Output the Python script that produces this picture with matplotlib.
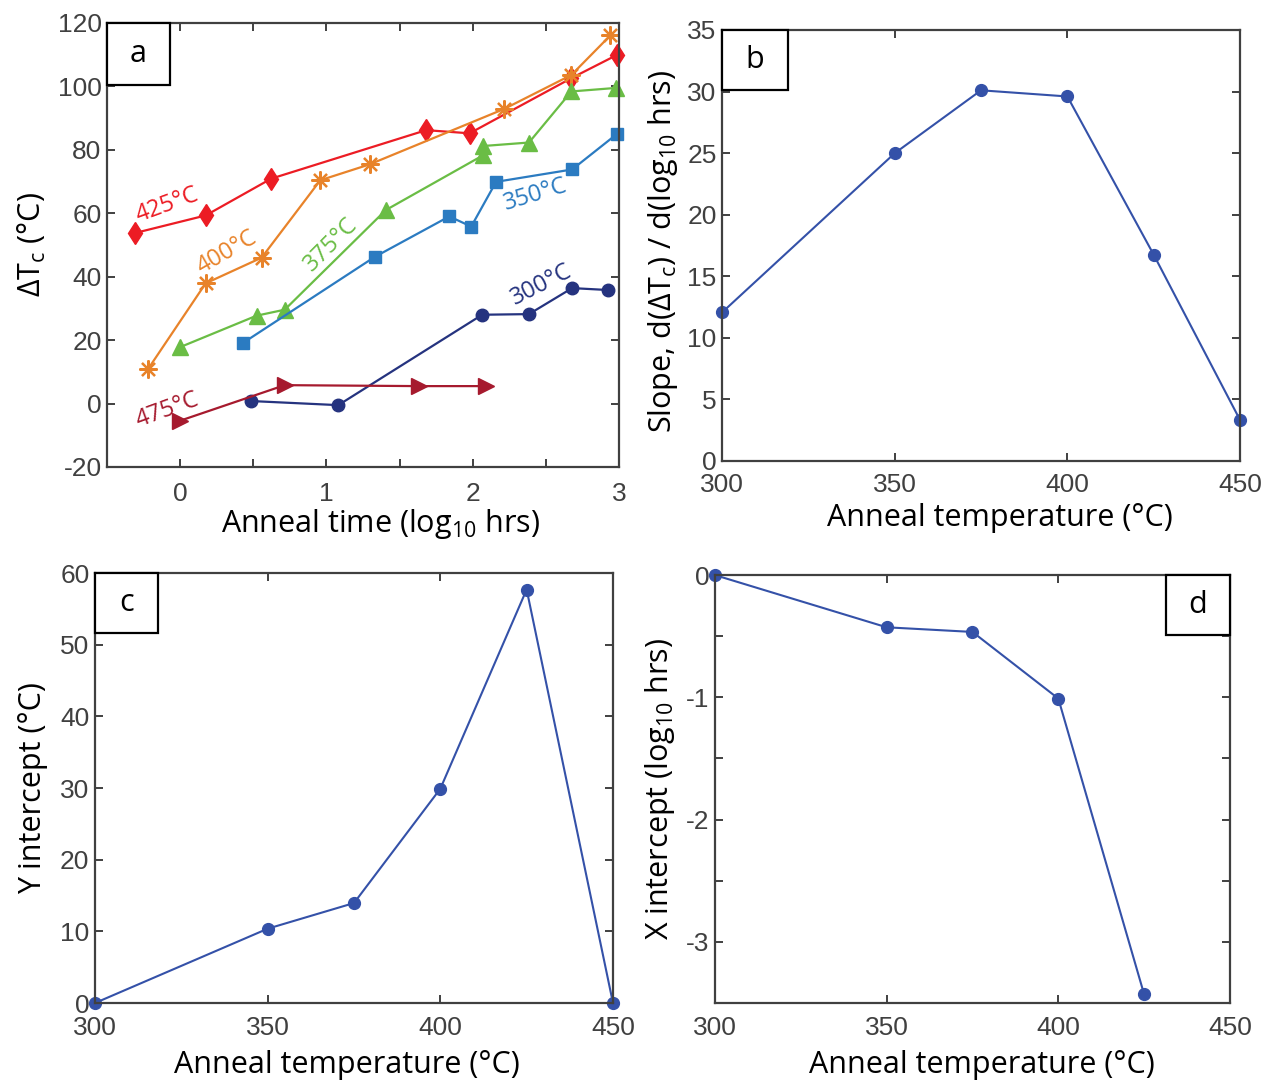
import numpy as np
import matplotlib
matplotlib.use("Agg")
import matplotlib.pyplot as plt
from matplotlib.patches import Rectangle

plt.rcParams["mathtext.default"] = "regular"
plt.rcParams["axes.unicode_minus"] = False

# panel a: delta Tc vs log10 anneal time, one series per anneal temperature
t425 = [-0.306, 0.174, 0.622, 1.682, 1.979, 2.675, 2.986]
d425 = [53.8, 59.3, 70.9, 86.2, 85.2, 102.6, 109.9]
t400 = [-0.218, 0.174, 0.557, 0.958, 1.295, 2.216, 2.675, 2.942]
d400 = [11.0, 37.9, 46.0, 70.4, 75.4, 92.9, 103.6, 116.1]
t375 = [0.0, 0.522, 0.715, 1.406, 2.072, 2.072, 2.385, 2.675, 2.977]
d375 = [17.8, 27.7, 29.6, 61.0, 78.3, 81.2, 82.3, 98.4, 99.5]
t350 = [0.429, 1.329, 1.84, 1.99, 2.16, 2.68, 2.984]
d350 = [19.1, 46.2, 59.0, 55.8, 69.9, 73.8, 84.9]
t300 = [0.483, 1.081, 2.065, 2.385, 2.68, 2.923]
d300 = [0.8, -0.5, 28.0, 28.2, 36.4, 35.8]
t475 = [0.0, 0.715, 1.631, 2.088]
d475 = [-5.4, 5.8, 5.5, 5.5]

# panels b-d: fit results vs anneal temperature
temps = [300, 350, 375, 400, 425, 450]
slope = [12.06, 24.99, 30.1, 29.6, 16.75, 3.33]
yint = [0.0, 10.37, 13.95, 29.9, 57.7, 0.0]
temps_d = [300, 350, 375, 400, 425]
xint = [0.0, -0.427, -0.465, -1.01, -3.43]

gray = "#404040"
fit_blue = "#3451a8"
tick_font = "Liberation Sans"
label_font = "Open Sans"

fig = plt.figure(figsize=(12.67, 10.82), dpi=100)
ax_a = fig.add_axes([0.0845, 0.5684, 0.404, 0.4104])
ax_b = fig.add_axes([0.5699, 0.574, 0.4088, 0.3983])
ax_c = fig.add_axes([0.075, 0.073, 0.4088, 0.3974])
ax_d = fig.add_axes([0.5643, 0.073, 0.4065, 0.3955])


def style_axes(ax, xpad=9):
    for s in ax.spines.values():
        s.set_color(gray)
        s.set_linewidth(1.6)
    ax.tick_params(direction="in", length=6, width=1.4, color=gray,
                   top=True, right=True, labelsize=19, labelcolor=gray, pad=4)
    ax.tick_params(axis="x", pad=xpad)
    for lab in ax.get_xticklabels() + ax.get_yticklabels():
        lab.set_fontfamily(tick_font)


def panel_box(ax, letter, x0, w, h, y0=None):
    if y0 is None:
        y0 = 1 - h
    ax.add_patch(Rectangle((x0, y0), w, h, transform=ax.transAxes, facecolor="white",
                           edgecolor="black", linewidth=1.6, zorder=10, clip_on=False))
    ax.text(x0 + w / 2, y0 + h / 2, letter, transform=ax.transAxes, ha="center", va="center",
            fontsize=22, family=label_font, color="black", zorder=11)


# ---- panel a
lw = 1.6
ax_a.plot(t425, d425, "-d", color="#ec1c24", lw=lw, ms=11.5, clip_on=False)
ax_a.plot(t400, d400, "-", color="#e8832a", lw=lw, marker=(8, 2, 0), ms=13, mew=1.6,
          clip_on=False)
ax_a.plot(t375, d375, "-^", color="#6abd45", lw=lw, ms=12, clip_on=False)
ax_a.plot(t350, d350, "-s", color="#2b7bc1", lw=lw, ms=8, clip_on=False)
ax_a.plot(t300, d300, "-o", color="#25337f", lw=lw, ms=9, clip_on=False)
ax_a.plot(t475, d475, "->", color="#a61a2e", lw=lw, ms=12, clip_on=False)

ax_a.set_xlim(-0.5, 3)
ax_a.set_ylim(-20, 120)
ax_a.set_xticks(np.arange(0, 3.01, 0.5))
ax_a.set_xticklabels(["0", "", "1", "", "2", "", "3"])
ax_a.set_yticks(np.arange(-20, 121, 20))
style_axes(ax_a, xpad=11)

series_labels = [
    ("425°C", -0.09, 62.5, 20, "#ec1c24"),
    ("400°C", 0.32, 47.6, 30, "#e8832a"),
    ("375°C", 1.03, 50.0, 45, "#6abd45"),
    ("350°C", 2.43, 66.0, 17, "#2b7bc1"),
    ("300°C", 2.47, 37.5, 27, "#25337f"),
    ("475°C", -0.09, -2.2, 20, "#a61a2e"),
]
for txt, x, y, rot, col in series_labels:
    ax_a.text(x, y, txt, rotation=rot, color=col, fontsize=17, family=label_font,
              ha="center", va="center", rotation_mode="anchor")

ax_a.set_xlabel("Anneal time (log$_{10}$ hrs)", fontsize=22, family=label_font)
ax_a.set_ylabel("ΔT$_c$ (°C)", fontsize=22, family=label_font)
ax_a.xaxis.set_label_coords(0.535, -0.128)
ax_a.xaxis.label.set_va("center")
ax_a.yaxis.set_label_coords(-0.146, 0.5)
ax_a.yaxis.label.set_va("center")
panel_box(ax_a, "a", 0.0, 0.123, 0.14)

# ---- panel b
ax_b.plot(temps, slope, "-o", color=fit_blue, lw=1.5, ms=8.5, clip_on=False)
ax_b.set_xlim(300, 450)
ax_b.set_ylim(0, 35)
ax_b.set_xticks([300, 350, 400, 450])
ax_b.set_yticks(np.arange(0, 36, 5))
style_axes(ax_b)
ax_b.set_xlabel("Anneal temperature (°C)", fontsize=22, family=label_font)
ax_b.set_ylabel("Slope, d(ΔT$_c$) / d(log$_{10}$ hrs)", fontsize=22, family=label_font)
ax_b.xaxis.set_label_coords(0.537, -0.132)
ax_b.xaxis.label.set_va("center")
ax_b.yaxis.set_label_coords(-0.114, 0.485)
ax_b.yaxis.label.set_va("center")
panel_box(ax_b, "b", 0.0, 0.127, 0.14)

# ---- panel c
ax_c.plot(temps, yint, "-o", color=fit_blue, lw=1.5, ms=8.5, clip_on=False)
ax_c.set_xlim(300, 450)
ax_c.set_ylim(0, 60)
ax_c.set_xticks([300, 350, 400, 450])
ax_c.set_yticks(np.arange(0, 61, 10))
style_axes(ax_c, xpad=9)
ax_c.set_xlabel("Anneal temperature (°C)", fontsize=22, family=label_font)
ax_c.set_ylabel("Y intercept (°C)", fontsize=22, family=label_font)
ax_c.xaxis.set_label_coords(0.486, -0.145)
ax_c.xaxis.label.set_va("center")
ax_c.yaxis.set_label_coords(-0.12, 0.5)
ax_c.yaxis.label.set_va("center")
panel_box(ax_c, "c", 0.0, 0.122, 0.14)

# ---- panel d
ax_d.plot(temps_d, xint, "-o", color=fit_blue, lw=1.5, ms=8.5, clip_on=False)
ax_d.set_xlim(300, 450)
ax_d.set_ylim(-3.5, 0)
ax_d.set_xticks([300, 350, 400, 450])
ax_d.set_yticks(np.arange(-3.5, 0.01, 0.5))
ax_d.set_yticklabels(["", "-3", "", "-2", "", "-1", "", "0"])
style_axes(ax_d, xpad=9)
ax_d.set_xlabel("Anneal temperature (°C)", fontsize=22, family=label_font)
ax_d.set_ylabel("X intercept (log$_{10}$ hrs)", fontsize=22, family=label_font)
ax_d.xaxis.set_label_coords(0.518, -0.145)
ax_d.xaxis.label.set_va("center")
ax_d.yaxis.set_label_coords(-0.107, 0.5)
ax_d.yaxis.label.set_va("center")
panel_box(ax_d, "d", 0.876, 0.124, 0.14)

fig.savefig("out.png", dpi=100)
